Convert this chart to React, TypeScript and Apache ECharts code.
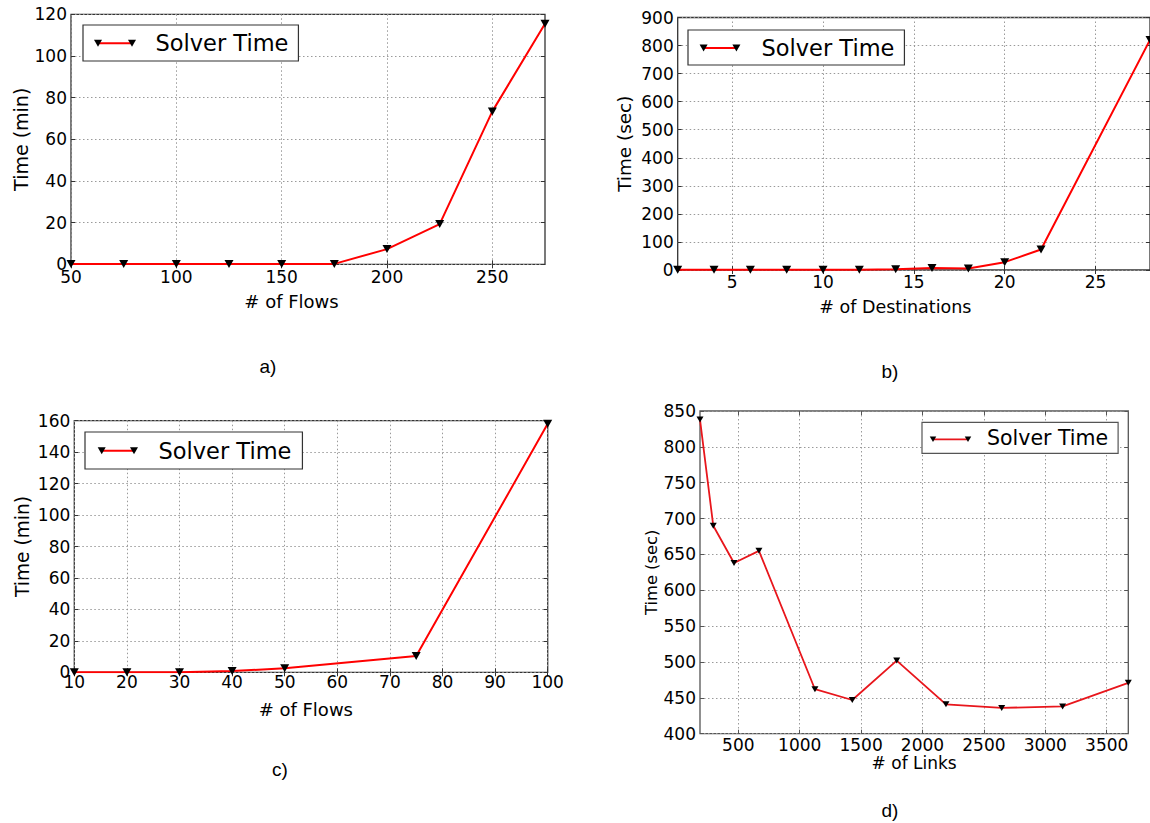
import React, { useEffect, useRef } from 'react';
import * as echarts from 'echarts';

const SERIES_NAME = 'Solver Time';

// a) solver time vs number of flows (minutes)
const flowsA = [50, 75, 100, 125, 150, 175, 200, 225, 250, 275];
const timeMinA = [0.1, 0.1, 0.1, 0.1, 0.1, 0.2, 7.3, 19.3, 73.4, 115.5];
const xTicksA = [50, 100, 150, 200, 250];
const yTicksA = [0, 20, 40, 60, 80, 100, 120];

// b) solver time vs number of destinations (seconds)
const destB = [2, 4, 6, 8, 10, 12, 14, 16, 18, 20, 22, 28];
const timeSecB = [1, 1, 1, 1, 1, 1, 3, 7, 5, 28, 73, 820];
const xTicksB = [5, 10, 15, 20, 25];
const yTicksB = [0, 100, 200, 300, 400, 500, 600, 700, 800, 900];

// c) solver time vs number of flows (minutes)
const flowsC = [10, 20, 30, 40, 50, 75, 100];
const timeMinC = [0.1, 0.1, 0.1, 0.8, 2.5, 10.3, 158];
const xTicksC = [10, 20, 30, 40, 50, 60, 70, 80, 90, 100];
const yTicksC = [0, 20, 40, 60, 80, 100, 120, 140, 160];

// d) solver time vs number of links (seconds)
const linksD = [188, 296, 465, 668, 1124, 1428, 1790, 2191, 2645, 3141, 3676];
const timeSecD = [838, 690, 638, 655, 462, 447, 502, 441, 436, 438, 471];
const xTicksD = [500, 1000, 1500, 2000, 2500, 3000, 3500];
const yTicksD = [400, 450, 500, 550, 600, 650, 700, 750, 800, 850];

const xNames = ['# of Flows', '# of Destinations', '# of Flows', '# of Links'];
const yNames = ['Time (min)', 'Time (sec)', 'Time (min)', 'Time (sec)'];
const captions = ['a)', 'b)', 'c)', 'd)'];

const FONT = 'DejaVu Sans';
const plain = (v: number) => String(v);

const PANELS = [
  {
    xs: flowsA, ys: timeMinA, xt: xTicksA, yt: yTicksA,
    grid: { left: 71, top: 14.3, width: 474, height: 250 },
    frame: '#333', xLabelMargin: 12.4, xNameGap: 37, xNameFont: 18, xNameShift: 33,
    yNameGap: 50.5, yNameFont: 19, line: '#ff0000', lineWidth: 2, symbolSize: [9, 8],
    legend: { left: 83, top: 25, padding: [5, 10, 5, 10], itemWidth: 40, textPad: 17.5, fontSize: 22.5, lineHeight: 26, border: '#333' },
    icon: { x1: 98, x2: 132, y: 43.3, w: 8, h: 7 },
    caption: { x: 268, y: 366 },
  },
  {
    xs: destB, ys: timeSecB, xt: xTicksB, yt: yTicksB,
    grid: { left: 677.7, top: 17.5, width: 473, height: 252.5 },
    frame: '#333', xLabelMargin: 11.7, xNameGap: 36.5, xNameFont: 17.5, xNameShift: 37,
    yNameGap: 53, yNameFont: 18.4, line: '#ff0000', lineWidth: 2, symbolSize: [9, 8],
    legend: { left: 688, top: 30, padding: [4.5, 10, 4.5, 10], itemWidth: 40, textPad: 18.5, fontSize: 22.5, lineHeight: 26, border: '#333' },
    icon: { x1: 703.6, x2: 736.4, y: 48, w: 8, h: 7 },
    caption: { x: 890, y: 371 },
  },
  {
    xs: flowsC, ys: timeMinC, xt: xTicksC, yt: yTicksC,
    grid: { left: 74.3, top: 420.7, width: 473.4, height: 251.6 },
    frame: '#333', xLabelMargin: 9.7, xNameGap: 37, xNameFont: 18, xNameShift: 10.4,
    yNameGap: 51.7, yNameFont: 18.6, line: '#ff0000', lineWidth: 2, symbolSize: [9, 8],
    legend: { left: 85, top: 432, padding: [5.5, 11, 5.5, 10], itemWidth: 40, textPad: 18.5, fontSize: 22.5, lineHeight: 26, border: '#333' },
    icon: { x1: 101.7, x2: 134, y: 450.7, w: 8, h: 7 },
    caption: { x: 280, y: 769 },
  },
  {
    xs: linksD, ys: timeSecD, xt: xTicksD, yt: yTicksD,
    grid: { left: 700, top: 411, width: 428.3, height: 322.7 },
    frame: '#555', xLabelMargin: 11.7, xNameGap: 28, xNameFont: 17, xNameShift: 0,
    yNameGap: 48, yNameFont: 16.3, line: '#e8161c', lineWidth: 1.8, symbolSize: [7, 6],
    legend: { left: 922, top: 422.3, padding: [3.5, 10, 3.5, 8], itemWidth: 36, textPad: 16, fontSize: 20.5, lineHeight: 24, border: '#555' },
    icon: { x1: 933, x2: 968, y: 439.3, w: 6.5, h: 5.5 },
    caption: { x: 890, y: 810 },
  },
];

function buildOption() {
  const grids: any[] = [];
  const xAxes: any[] = [];
  const yAxes: any[] = [];
  const xAxesTop: any[] = [];
  const yAxesRight: any[] = [];
  const series: any[] = [];
  const legends: any[] = [];
  const graphics: any[] = [];

  PANELS.forEach((p, i) => {
    const xMin = Math.min(...p.xs);
    const xMax = Math.max(...p.xs);
    const yMin = p.yt[0];
    const yMax = p.yt[p.yt.length - 1];
    const yInt = p.yt[1] - p.yt[0];
    const tickStyle = { color: p.frame, width: 1 };
    const split = { show: true, lineStyle: { color: '#9a9a9a', width: 1, type: [1.5, 2.5] } };

    grids.push({
      left: p.grid.left, top: p.grid.top, width: p.grid.width, height: p.grid.height,
      show: true, borderColor: p.frame, borderWidth: 1.3, backgroundColor: 'transparent',
    });

    xAxes.push({
      gridIndex: i, type: 'value', position: 'bottom', min: xMin, max: xMax,
      axisLine: { show: false },
      axisTick: { show: true, inside: true, length: 4, lineStyle: tickStyle, customValues: p.xt },
      axisLabel: {
        show: true, customValues: p.xt, margin: p.xLabelMargin, verticalAlign: 'middle',
        fontSize: 17, fontFamily: FONT, color: '#000', formatter: plain,
      },
      splitLine: split,
      name: xNames[i], nameLocation: 'middle', nameGap: p.xNameGap,
      nameTextStyle: {
        fontSize: p.xNameFont, fontFamily: FONT, color: '#000', verticalAlign: 'middle',
        padding: [0, p.xNameShift, 0, 0],
      },
    });
    xAxesTop.push({
      gridIndex: i, type: 'value', position: 'top', min: xMin, max: xMax,
      axisLine: { show: false },
      axisTick: { show: true, inside: true, length: 4, lineStyle: tickStyle, customValues: p.xt },
      axisLabel: { show: false, customValues: p.xt },
      splitLine: { show: false },
    });

    yAxes.push({
      gridIndex: i, type: 'value', position: 'left', min: yMin, max: yMax, interval: yInt,
      axisLine: { show: false },
      axisTick: { show: true, inside: true, length: 4, lineStyle: tickStyle },
      axisLabel: { show: true, margin: 4, fontSize: 17, fontFamily: FONT, color: '#000', formatter: plain },
      splitLine: split,
      name: yNames[i], nameLocation: 'middle', nameGap: p.yNameGap, nameRotate: 90,
      nameTextStyle: { fontSize: p.yNameFont, fontFamily: FONT, color: '#000', verticalAlign: 'middle' },
    });
    yAxesRight.push({
      gridIndex: i, type: 'value', position: 'right', min: yMin, max: yMax, interval: yInt,
      axisLine: { show: false },
      axisTick: { show: true, inside: true, length: 4, lineStyle: tickStyle },
      axisLabel: { show: false },
      splitLine: { show: false },
    });

    series.push({
      type: 'line', name: SERIES_NAME, xAxisIndex: i, yAxisIndex: i,
      data: p.xs.map((x, j) => [x, p.ys[j]]),
      symbol: 'triangle', symbolRotate: 180, symbolSize: p.symbolSize,
      showAllSymbol: true,
      itemStyle: { color: '#000' },
      lineStyle: { color: p.line, width: p.lineWidth },
      clip: true, z: 3,
    });

    const L = p.legend;
    legends.push({
      show: true, data: [SERIES_NAME], left: L.left, top: L.top, orient: 'horizontal',
      padding: L.padding, itemWidth: L.itemWidth, itemHeight: 14, icon: 'rect',
      itemStyle: { color: 'rgba(0,0,0,0)', borderWidth: 0 },
      borderColor: L.border, borderWidth: 1.2, borderRadius: 0, backgroundColor: '#fff',
      selectedMode: false,
      textStyle: {
        fontSize: L.fontSize, fontFamily: FONT, color: '#000', lineHeight: L.lineHeight,
        padding: [0, 0, 0, L.textPad],
      },
    });

    const ic = p.icon;
    graphics.push({
      type: 'line', z: 100,
      shape: { x1: ic.x1, y1: ic.y, x2: ic.x2, y2: ic.y },
      style: { stroke: p.line, lineWidth: p.lineWidth },
    });
    [ic.x1, ic.x2].forEach((cx) => {
      graphics.push({
        type: 'polygon', z: 101,
        shape: { points: [[cx - ic.w / 2, ic.y - ic.h / 2], [cx + ic.w / 2, ic.y - ic.h / 2], [cx, ic.y + ic.h / 2]] },
        style: { fill: '#000' },
      });
    });
    graphics.push({
      type: 'text', z: 100,
      style: {
        text: captions[i], x: p.caption.x, y: p.caption.y, fontSize: 19, fontFamily: 'Liberation Sans',
        fill: '#000', align: 'center', verticalAlign: 'middle',
      },
    });
  });

  return {
    animation: false,
    backgroundColor: '#fff',
    grid: grids,
    xAxis: [...xAxes, ...xAxesTop],
    yAxis: [...yAxes, ...yAxesRight],
    legend: legends,
    series,
    graphic: graphics,
  };
}

export default function App() {
  const ref = useRef<HTMLDivElement>(null);
  useEffect(() => {
    if (!ref.current) return;
    const chart = echarts.init(ref.current, undefined, { renderer: 'svg' });
    chart.setOption(buildOption() as any);
    return () => chart.dispose();
  }, []);
  return (
    <div
      ref={ref}
      style={{ position: 'absolute', left: 0, top: 0, width: 1150, height: 823, background: '#fff' }}
    />
  );
}
